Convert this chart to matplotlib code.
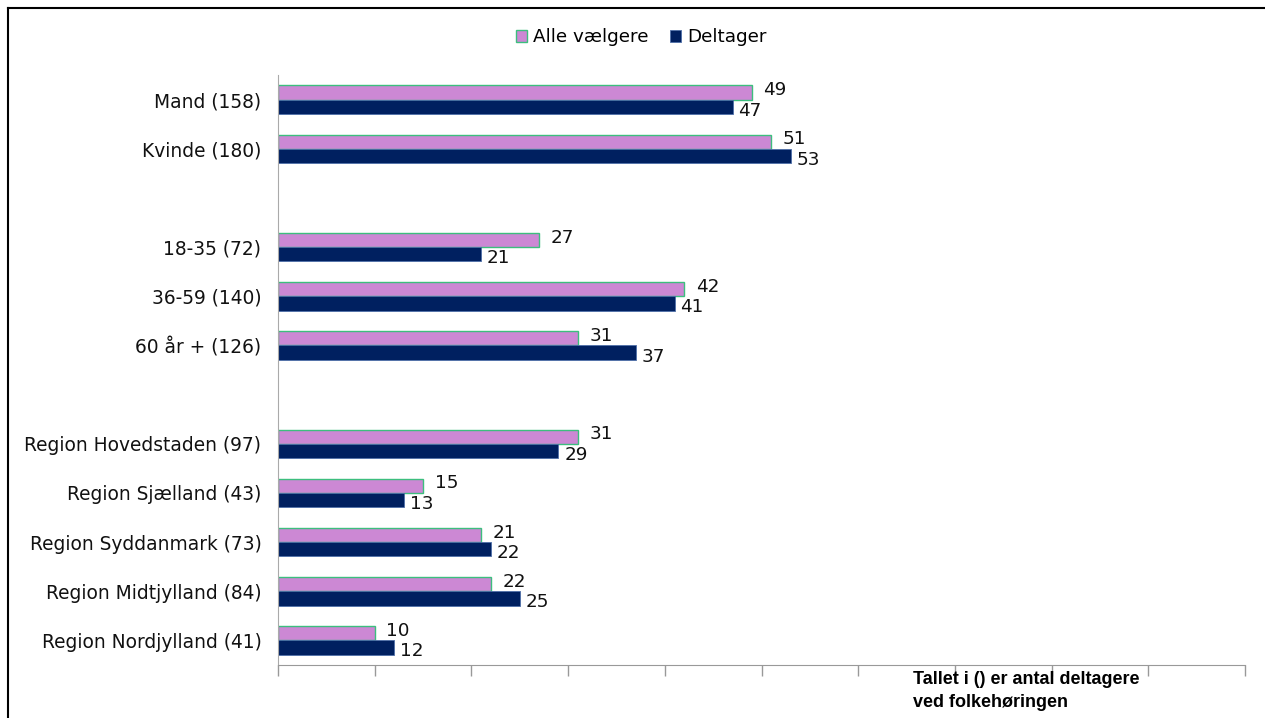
import matplotlib.pyplot as plt
import matplotlib.lines as mlines
import numpy as np

# tomme pladser ('') giver mellemrum mellem grupperne
kategorier = ['Mand (158)', 'Kvinde (180)', '',
              '18-35 (72)', '36-59 (140)', '60 år + (126)', '',
              'Region Hovedstaden (97)', 'Region Sjælland (43)', 'Region Syddanmark (73)',
              'Region Midtjylland (84)', 'Region Nordjylland (41)']
alle_vaelgere = [49, 51, None, 27, 42, 31, None, 31, 15, 21, 22, 10]
deltager = [47, 53, None, 21, 41, 37, None, 29, 13, 22, 25, 12]

fig = plt.figure(figsize=(12.65, 7.18), dpi=100)
ax = fig.add_axes([0.2198, 0.0738, 0.7644, 0.8217])

pos = np.arange(len(kategorier))
h = 0.29
idx = [i for i, v in enumerate(alle_vaelgere) if v is not None]
a_vals = [alle_vaelgere[i] for i in idx]
d_vals = [deltager[i] for i in idx]
a_pos = pos[idx] - h / 2
d_pos = pos[idx] + h / 2

ax.barh(a_pos, a_vals, height=h, color='#CC88D4', edgecolor='#3DBE7E', linewidth=1.0, label='Alle vælgere')
ax.barh(d_pos, d_vals, height=h, color='#002060', edgecolor='#4F6FA8', linewidth=0.6, label='Deltager')

for y, v in zip(a_pos, a_vals):
    ax.text(v + 1.2, y - 0.05, str(v), va='center', ha='left', fontsize=13.2, color='#111111')
for y, v in zip(d_pos, d_vals):
    ax.text(v + 0.6, y + 0.08, str(v), va='center', ha='left', fontsize=13.2, color='#111111')

ax.set_xlim(0, 100)
ax.set_ylim(len(kategorier) - 0.5, -0.5)
ax.set_xticks(np.arange(0, 101, 10))
ax.set_xticklabels([])
ax.set_yticks(pos)
ax.set_yticklabels(kategorier, fontsize=13.4, color='#111111')
ax.tick_params(axis='y', length=0, pad=12)
ax.tick_params(axis='x', direction='out', length=8, color='#999999', width=1)
for s in ['top', 'right']:
    ax.spines[s].set_visible(False)
ax.spines['left'].set_color('#AAAAAA')
ax.spines['bottom'].set_color('#999999')

fig.legend(loc='center', bbox_to_anchor=(0.507, 0.948), ncol=2, frameon=False,
           fontsize=13.2, handlelength=0.6, handleheight=0.6, handletextpad=0.3,
           columnspacing=1.2)

fig.text(0.722, 0.066, 'Tallet i () er antal deltagere\nved folkehøringen', fontsize=13,
         fontweight='bold', family='Liberation Sans', va='top', ha='left', linespacing=1.5)

# ramme (venstre og top)
fig.add_artist(mlines.Line2D([0.0063, 0.0063], [0, 0.989], transform=fig.transFigure, color='black', lw=1.5))
fig.add_artist(mlines.Line2D([0.0063, 1.0], [0.989, 0.989], transform=fig.transFigure, color='black', lw=1.5))

fig.savefig('out.png', dpi=100)
